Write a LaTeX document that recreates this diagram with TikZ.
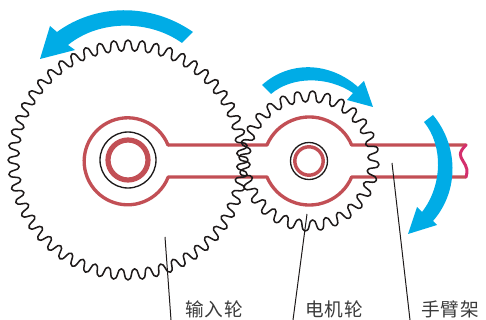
\documentclass[tikz,border=0pt]{standalone}
\usepackage{fontspec}
\newfontfamily\cjk[LetterSpace=4]{Noto Sans CJK SC}
\definecolor{armred}{HTML}{C24F55}
\definecolor{endpink}{HTML}{D42E6C}
\definecolor{sweep}{HTML}{00ACE6}
\definecolor{ink}{HTML}{1E1A1A}
\definecolor{labelgrey}{HTML}{3A3A3A}
\tikzset{
  armline/.style={draw=armred,line width=2.5pt,line cap=round,line join=round},
  gearline/.style={draw=ink,line width=1.15pt,line join=round},
  hub/.style={draw=ink,line width=1pt},
  leaderline/.style={draw=ink,line width=0.75pt},
  sweeparrow/.style={fill=sweep,draw=none},
  partlabel/.style={font=\cjk\fontsize{14pt}{15pt}\selectfont,text=labelgrey,inner sep=0pt},
  declare function={ph(\u)=360*(\u-floor(\u));}
}
\begin{document}
\begin{tikzpicture}[x=0.75pt,y=-0.75pt]
\useasboundingbox (0,0) rectangle (486,320);
% arm
\draw[armline] (168,145) -- (267,145) arc[start angle=-157,end angle=-23,radius=46] -- (466,145);
\draw[armline] (168,177) -- (267,177) arc[start angle=157,end angle=23,radius=46] -- (466,177);
\draw[armline] (168,145) arc[start angle=-22,end angle=-338,radius=43.5];
\draw[draw=endpink,line width=2.25pt,line cap=round] (466,145) .. controls (458,153) and (460,156) .. (463,161) .. controls (467,167) and (468,171) .. (466,177);
% hubs
\draw[hub] (128,160) circle[radius=28];
\draw[draw=armred,line width=3.9pt] (128,160) circle[radius=20];
\draw[hub] (309,161) circle[radius=18.5];
\draw[draw=armred,line width=2.6pt] (309,161) circle[radius=14.2];
% gears
\draw[gearline,smooth,domain=0:52,samples=417,variable=\t] plot ({128+(114.5+5.5*cos(ph(\t)))*cos(6.923*\t+0.3*sin(2*ph(\t)))},{160+(114.5+5.5*cos(ph(\t)))*sin(6.923*\t+0.3*sin(2*ph(\t)))}) -- cycle;
\draw[gearline,smooth,domain=0:28,samples=225,variable=\t] plot ({309+(64.5+5.5*cos(ph(\t)))*cos(12.857*\t+3+0.6*sin(2*ph(\t)))},{161+(64.5+5.5*cos(ph(\t)))*sin(12.857*\t+3+0.6*sin(2*ph(\t)))}) -- cycle;
% sweep arrows
\path[sweeparrow] (193,32) .. controls (150,2) and (95,4) .. (57,32) -- (50,26) -- (40,59) -- (75,50) -- (68,45) .. controls (100,19) and (150,20) .. (182,43) -- cycle;
\path[sweeparrow] (262,85) .. controls (290,60) and (330,62) .. (358,87) -- (364,81) -- (373,107) -- (347,100) -- (353,93) .. controls (328,76) and (292,76) .. (271,94) -- cycle;
\path[sweeparrow] (433,115) .. controls (458,145) and (460,190) .. (433,221) -- (437,225) -- (408,234) -- (417,207) -- (422,212) .. controls (443,185) and (443,145) .. (424,122) -- cycle;
% labels and leaders
\node[partlabel] (input) at (214,309) {输入轮};
\node[partlabel] (motor) at (334,309) {电机轮};
\node[partlabel] (frame) at (450,309) {手臂架};
\coordinate (inputA) at (165,237); \coordinate (inputB) at (171,320);
\coordinate (motorA) at (307,214); \coordinate (motorB) at (293,320);
\coordinate (frameA) at (392,163); \coordinate (frameB) at (410,320);
\draw[leaderline] (inputA) -- (inputB);
\draw[leaderline] (motorA) -- (motorB);
\draw[leaderline] (frameA) -- (frameB);
\end{tikzpicture}
\end{document}
